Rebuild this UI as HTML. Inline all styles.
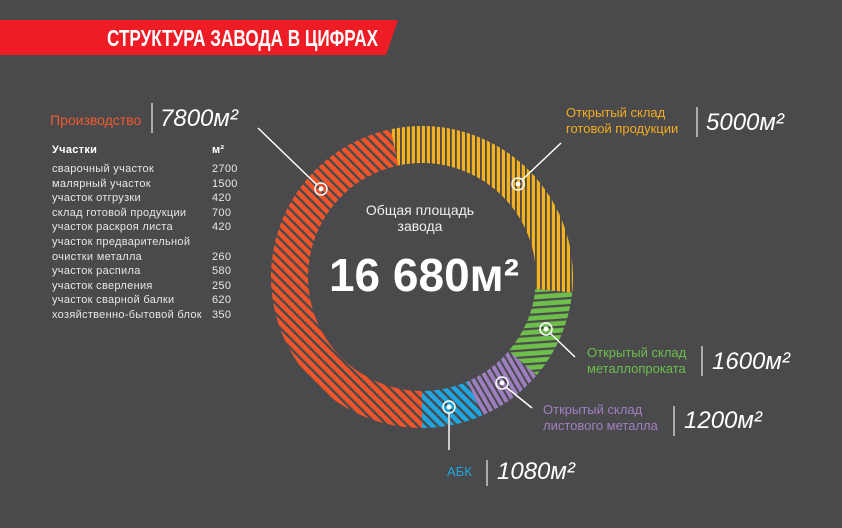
<!DOCTYPE html>
<html><head><meta charset="utf-8"><style>
html,body{margin:0;padding:0;background:#4a4a4c;}
svg{display:block;font-family:"Liberation Sans","DejaVu Sans",sans-serif;}
</style></head><body>
<svg width="842" height="528" viewBox="0 0 842 528" xmlns="http://www.w3.org/2000/svg">
<defs>
<pattern id="pr" width="7" height="7" patternUnits="userSpaceOnUse" patternTransform="rotate(-45)"><rect width="7" height="7" fill="#f0542a"/><rect width="2.4" height="7" fill="#4a4a4c"/></pattern>
<pattern id="py" width="5" height="7" patternUnits="userSpaceOnUse"><rect width="5" height="7" fill="#f6b21e"/><rect width="1.8" height="7" fill="#4a4a4c"/></pattern>
<pattern id="pg" width="7" height="7" patternUnits="userSpaceOnUse" patternTransform="rotate(-4)"><rect width="7" height="7" fill="#6dbe4b"/><rect width="7" height="2.2" fill="#4a4a4c"/></pattern>
<pattern id="pp" width="6" height="6" patternUnits="userSpaceOnUse" patternTransform="rotate(-30)"><rect width="6" height="6" fill="#9b7fbf"/><rect width="2" height="6" fill="#4a4a4c"/></pattern>
<pattern id="pb" width="7" height="7" patternUnits="userSpaceOnUse" patternTransform="rotate(-45)"><rect width="7" height="7" fill="#1fa6e0"/><rect width="2.4" height="7" fill="#4a4a4c"/></pattern>
</defs>
<rect width="842" height="528" fill="#4a4a4c"/>
<polygon points="0,20 398,20 386,55 0,55" fill="#ee1c25"/>
<text x="107" y="46" fill="#fff" font-size="23" font-weight="bold" textLength="271" lengthAdjust="spacingAndGlyphs">СТРУКТУРА ЗАВОДА В ЦИФРАХ</text>

<path d="M390.6,129.3 A151,151 0 0 1 572.2,292.8 L535.4,288.9 A114,114 0 0 0 398.3,165.5 Z" fill="url(#py)"/>
<path d="M572.2,292.8 A151,151 0 0 1 536.8,375.1 L508.7,351.0 A114,114 0 0 0 535.4,288.9 Z" fill="url(#pg)"/>
<path d="M536.8,375.1 A151,151 0 0 1 482.2,415.5 L467.5,381.5 A114,114 0 0 0 508.7,351.0 Z" fill="url(#pp)"/>
<path d="M482.2,415.5 A151,151 0 0 1 422,428 L422,391 A114,114 0 0 0 467.5,381.5 Z" fill="url(#pb)"/>
<path d="M422,428 A151,151 0 0 1 390.6,129.3 L398.3,165.5 A114,114 0 0 0 422,391 Z" fill="url(#pr)"/>

<g stroke="#fff" stroke-width="1.5" fill="none">
<line x1="258" y1="128" x2="317" y2="185"/>
<line x1="561" y1="143" x2="522" y2="180"/>
<line x1="575" y1="357" x2="550" y2="333"/>
<line x1="532" y1="408" x2="506" y2="387"/>
<line x1="449" y1="412" x2="449" y2="450" stroke="#ccc" stroke-width="2"/>
<circle cx="321" cy="189" r="6"/><circle cx="518" cy="184" r="6"/><circle cx="546" cy="329" r="6"/><circle cx="502" cy="383" r="6"/><circle cx="449" cy="407" r="6"/>
</g>
<g fill="#fff"><circle cx="321" cy="189" r="2.5"/><circle cx="518" cy="184" r="2.5"/><circle cx="546" cy="329" r="2.5"/><circle cx="502" cy="383" r="2.5"/><circle cx="449" cy="407" r="2.5"/></g>

<text x="420" y="215" fill="#eee" font-size="14" text-anchor="middle">Общая площадь</text>
<text x="420" y="231" fill="#eee" font-size="14" text-anchor="middle">завода</text>
<text x="424" y="291" fill="#fff" font-size="46" font-weight="bold" text-anchor="middle">16 680м²</text>

<g stroke="#ccc" stroke-width="1.5">
<line x1="152" y1="103" x2="152" y2="133"/>
<line x1="697" y1="107" x2="697" y2="137"/>
<line x1="702" y1="346" x2="702" y2="376"/>
<line x1="674" y1="406" x2="674" y2="436"/>
<line x1="487" y1="460" x2="487" y2="486"/>
</g>
<g fill="#fff" font-size="24" font-style="italic">
<text x="160" y="126">7800м²</text>
<text x="706" y="130">5000м²</text>
<text x="712" y="369">1600м²</text>
<text x="684" y="428">1200м²</text>
<text x="497" y="479">1080м²</text>
</g>
<text x="50" y="125" fill="#ee5a2e" font-size="14">Производство</text>
<g fill="#f4ab1d" font-size="13"><text x="566" y="117">Открытый склад</text><text x="566" y="133">готовой продукции</text></g>
<g fill="#6dbe4b" font-size="13"><text x="587" y="357">Открытый склад</text><text x="587" y="373">металлопроката</text></g>
<g fill="#a27fc2" font-size="13"><text x="543" y="414">Открытый склад</text><text x="543" y="430">листового металла</text></g>
<text x="447" y="476" fill="#1fa6e0" font-size="13">АБК</text>

<g fill="#e6e6e6" font-size="11" letter-spacing="0.3">
<text x="52" y="153" font-weight="bold" fill="#fff">Участки</text><text x="212" y="153" font-weight="bold" fill="#fff">м²</text>
<text x="52" y="172">сварочный участок</text><text x="212" y="172">2700</text>
<text x="52" y="187">малярный участок</text><text x="212" y="187">1500</text>
<text x="52" y="201">участок отгрузки</text><text x="212" y="201">420</text>
<text x="52" y="216">склад готовой продукции</text><text x="212" y="216">700</text>
<text x="52" y="230">участок раскроя листа</text><text x="212" y="230">420</text>
<text x="52" y="245">участок предварительной</text>
<text x="52" y="260">очистки металла</text><text x="212" y="260">260</text>
<text x="52" y="274">участок распила</text><text x="212" y="274">580</text>
<text x="52" y="289">участок сверления</text><text x="212" y="289">250</text>
<text x="52" y="303">участок сварной балки</text><text x="212" y="303">620</text>
<text x="52" y="318">хозяйственно-бытовой блок</text><text x="212" y="318">350</text>
</g>
</svg>
</body></html>
